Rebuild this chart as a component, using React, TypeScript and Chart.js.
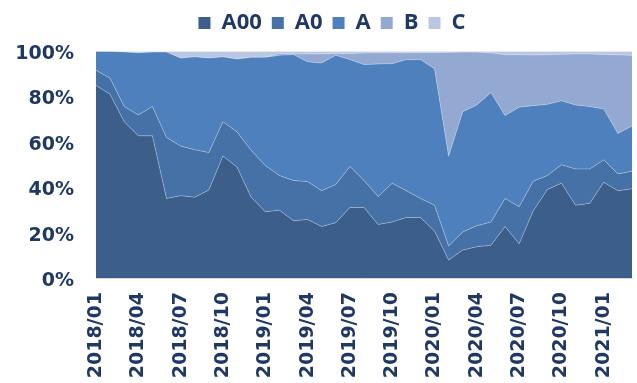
import React, { useEffect, useRef } from "react";
import { Chart, registerables } from "chart.js";

Chart.register(...registerables);

const labels = [
  "2018/01", "2018/02", "2018/03", "2018/04", "2018/05", "2018/06", "2018/07", "2018/08", "2018/09", "2018/10", "2018/11", "2018/12",
  "2019/01", "2019/02", "2019/03", "2019/04", "2019/05", "2019/06", "2019/07", "2019/08", "2019/09", "2019/10", "2019/11", "2019/12",
  "2020/01", "2020/02", "2020/03", "2020/04", "2020/05", "2020/06", "2020/07", "2020/08", "2020/09", "2020/10", "2020/11", "2020/12",
  "2021/01", "2021/02", "2021/03",
];

const seriesNames = ["A00", "A0", "A", "B", "C"];

const a00 = [84.9, 81.0, 68.9, 62.7, 62.7, 35.1, 36.3, 35.6, 38.8, 53.8, 48.9, 35.6, 29.2, 29.9, 25.2, 25.8, 22.7, 24.4, 31.1, 31.1, 23.6, 24.7, 26.7, 26.7, 20.7, 7.9, 12.3, 13.8, 14.4, 22.7, 15.1, 29.6, 39.0, 41.8, 32.1, 32.9, 42.2, 38.5, 39.3];
const a0 = [6.7, 7.1, 6.7, 9.2, 12.9, 26.8, 21.9, 21.0, 16.5, 15.1, 15.5, 20.7, 20.4, 15.3, 17.8, 16.7, 15.8, 16.8, 18.1, 11.9, 12.3, 17.1, 11.8, 8.4, 11.4, 6.2, 8.0, 9.2, 10.3, 12.4, 16.3, 13.1, 6.2, 8.1, 16.0, 15.2, 9.9, 7.4, 7.8];
const aSeg = [8.4, 11.9, 24.1, 27.4, 24.0, 37.7, 38.8, 40.9, 41.7, 28.6, 32.2, 41.0, 47.7, 53.0, 55.5, 52.8, 56.3, 57.0, 47.1, 51.1, 58.5, 52.7, 57.8, 61.2, 60.2, 39.7, 53.0, 53.3, 57.1, 36.5, 43.9, 33.3, 31.4, 28.2, 28.2, 27.5, 22.4, 17.8, 19.9];
const bSeg = [0, 0, 0, 0, 0, 0, 0, 0, 0, 0, 0, 0, 0, 0.8, 0.3, 3.5, 4.0, 0.8, 2.7, 5.1, 4.8, 4.8, 3.0, 3.0, 7.1, 45.7, 26.3, 23.3, 17.5, 26.9, 23.2, 22.3, 21.9, 20.6, 22.5, 23.2, 24.1, 34.7, 31.2];
const cSeg = [0, 0, 0.3, 0.7, 0.4, 0.4, 3.0, 2.5, 3.0, 2.5, 3.4, 2.7, 2.7, 1.0, 1.2, 1.2, 1.2, 1.0, 1.0, 0.8, 0.8, 0.7, 0.7, 0.7, 0.6, 0.5, 0.4, 0.4, 0.7, 1.5, 1.5, 1.7, 1.5, 1.3, 1.2, 1.2, 1.4, 1.6, 1.8];

const yTicks = [0, 20, 40, 60, 80, 100];

const seriesValues = [a00, a0, aSeg, bSeg, cSeg];
const seriesColors = ["#3b5e8b", "#4571a6", "#4d80bd", "#94a9d1", "#bac7e2"];
const textColor = "#1f3864";

export default function App() {
  const ref = useRef<HTMLCanvasElement>(null);

  useEffect(() => {
    const canvas = ref.current;
    if (!canvas) return;
    const chart = new Chart(canvas, {
      type: "line",
      data: {
        labels,
        datasets: seriesNames.map((name, i) => ({
          label: name,
          data: seriesValues[i],
          backgroundColor: seriesColors[i],
          borderColor: "rgba(255,255,255,0.3)",
          borderWidth: 1,
          pointRadius: 0,
          tension: 0,
          fill: i === 0 ? "origin" : "-1",
        })),
      },
      options: {
        animation: false,
        responsive: false,
        devicePixelRatio: 1,
        layout: { padding: { left: 32, right: 5, top: 2, bottom: 0 } },
        plugins: {
          legend: {
            position: "top",
            labels: {
              boxWidth: 12,
              boxHeight: 12,
              padding: 10,
              color: textColor,
              font: { family: "'Liberation Sans Narrow', 'Open Sans', sans-serif", size: 22, weight: "bold" },
              generateLabels: (c: any) =>
                Chart.defaults.plugins.legend.labels.generateLabels(c).map((l: any) => ({ ...l, lineWidth: 0 })),
            },
          },
          // empty spacer between the legend and the plot area
          subtitle: { display: true, text: "", weight: 500, padding: { top: 0, bottom: 6 }, font: { size: 1 } },
          tooltip: { enabled: false },
        },
        scales: {
          x: {
            offset: false,
            grid: { display: false, drawTicks: false },
            border: { display: true, color: "#d9d9d9", width: 1 },
            ticks: {
              autoSkip: false,
              maxRotation: 90,
              minRotation: 90,
              padding: 14,
              color: textColor,
              font: { family: "'DejaVu Sans'", size: 19, weight: "bold" },
              callback: (_v: any, idx: number) => (idx % 3 === 0 ? labels[idx] : ""),
            },
            afterFit: (s: any) => {
              s.height = 105;
              // the last (blank) label needs no room on the right
              s.paddingRight = 0;
            },
          },
          y: {
            stacked: true,
            min: 0,
            max: 100,
            afterBuildTicks: (s: any) => {
              s.ticks = yTicks.map((v) => ({ value: v }));
            },
            grid: { display: false, drawTicks: false },
            border: { display: true, color: "#d9d9d9", width: 1 },
            ticks: {
              padding: 22,
              labelOffset: 3,
              color: textColor,
              font: { family: "'DejaVu Sans'", size: 19, weight: "bold" },
              callback: (v: any) => v + "%",
            },
            afterFit: (s: any) => {
              s.width = 64;
              // let the tick labels extend into the layout padding instead of being clipped
              s._computeLabelArea = () => undefined;
            },
          },
        },
      },
    });
    return () => chart.destroy();
  }, []);

  return (
    <canvas
      ref={ref}
      width={637}
      height={383}
      style={{ position: "absolute", left: 0, top: 0, width: 637, height: 383, display: "block" }}
    />
  );
}
